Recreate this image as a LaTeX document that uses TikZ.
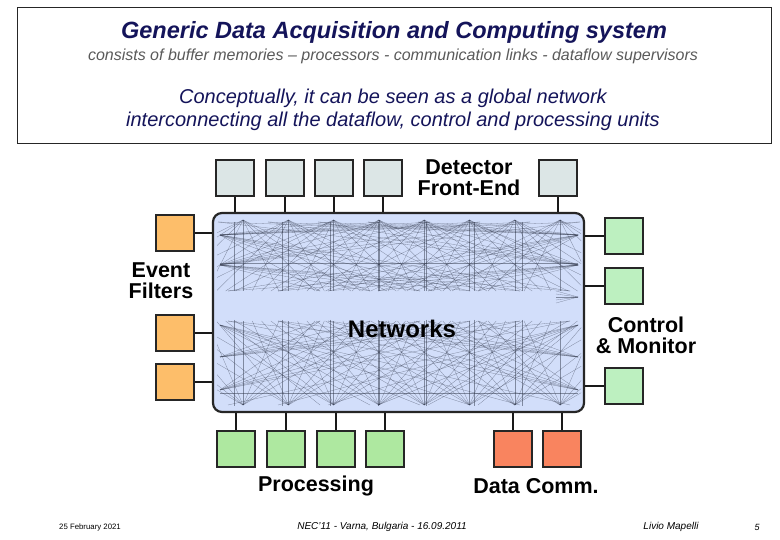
\documentclass[tikz,border=0pt]{standalone}
\usepackage{fontspec}
\setmainfont{Liberation Sans}
\definecolor{detc}{HTML}{DCE6E6}
\definecolor{evc}{HTML}{FDBE6A}
\definecolor{cmc}{HTML}{BDF0C0}
\definecolor{prc}{HTML}{AEE8A0}
\definecolor{dcc}{HTML}{F9845F}
\definecolor{netc}{HTML}{D2DEFA}
\definecolor{meshc}{HTML}{2E3548}
\definecolor{navy}{HTML}{14145A}
\definecolor{subg}{HTML}{5A5A5A}
\begin{document}
\begin{tikzpicture}[x=1pt,y=-1pt,
  unit/.style={draw=black!85, line width=2.2pt, minimum width=38.5pt, minimum height=36.5pt, inner sep=0pt},
  det/.style={unit, fill=detc},
  evb/.style={unit, fill=evc},
  cmb/.style={unit, fill=cmc},
  prb/.style={unit, fill=prc},
  dcb/.style={unit, fill=dcc},
  link/.style={draw=black!90, line width=2.6pt},
  lbl/.style={font=\fontsize{21.5}{21}\selectfont\bfseries, align=center, text=black, inner sep=0pt},
  mesh/.style={draw=meshc, line width=0.3pt, draw opacity=0.5},
  foot/.style={font=\fontsize{9}{10}\selectfont\itshape, inner sep=0pt}]
\useasboundingbox (0,0) rectangle (780,540);
\fill[white] (0,0) rectangle (780,540);

% header
\node[draw=black!85, line width=0.8pt, minimum width=754pt, minimum height=136pt, inner sep=0pt] (hdr) at (394,75) {};
\node[text=navy, font=\fontsize{23.5}{25}\selectfont\bfseries\itshape, inner sep=0pt] (title) at (394,32) {Generic Data Acquisition and Computing system};
\node[text=subg, font=\fontsize{16}{17}\selectfont\itshape, inner sep=0pt] (sub) at (393,56) {consists of buffer memories -- processors - communication links - dataflow supervisors};
\node[text=navy, font=\fontsize{20}{23}\selectfont\itshape, align=center, inner sep=0pt] (concept) at (393,110) {Conceptually, it can be seen as a global network\\interconnecting all the dataflow, control and processing units};

% network box
\node[draw=black!85, line width=2.2pt, fill=netc, rounded corners=9pt, minimum width=371pt, minimum height=199pt, inner sep=0pt] (net) at (398.5,312.5) {};

% mesh
\begin{scope}
\clip (217,217) rectangle (581,409);
% upper panel
\foreach \i in {0,...,7} {
  \pgfmathsetmacro\xa{243+45.3*\i}
  \foreach \j in {-4,...,4} {
    \draw[mesh] (\xa,220) -- ({\xa+\j*36},291);
  }
}
\foreach \ya in {235,265} {
  \foreach \k in {2,...,7} {
    \draw[mesh] (220,\ya) -- ({220+\k*50},291);
    \draw[mesh] (578,\ya) -- ({578-\k*50},291);
    \draw[mesh] (220,\ya) -- ({230+\k*50},222);
    \draw[mesh] (578,\ya) -- ({568-\k*50},222);
  }
}
\foreach \k in {0,...,4} {
  \draw[mesh] (578,297) -- (556,{291+3*\k});
}
\draw[mesh] (220,263) -- (578,263);
% lower panel
\foreach \i in {0,...,7} {
  \pgfmathsetmacro\xa{243+45.3*\i}
  \foreach \j in {-4,...,4} {
    \draw[mesh] (\xa,405) -- ({\xa+\j*36},321);
  }
}
\foreach \ya in {325,357,390} {
  \foreach \k in {2,...,7} {
    \draw[mesh] (220,\ya) -- ({220+\k*50},{\ya<340?405:321});
    \draw[mesh] (578,\ya) -- ({578-\k*50},{\ya<340?405:321});
  }
}
\draw[mesh] (220,393) -- (578,393);
\foreach \i in {0,...,6} {
  \draw[mesh] ({234+48.1*\i},222) -- ++(0,69);
  \draw[mesh] ({234+48.1*\i},320) -- ++(0,86);
}
\end{scope}
\node[font=\fontsize{24}{25}\selectfont\bfseries, inner sep=0pt] (netl) at (402,329) {Networks};

% detector front-end
\node[det] (d1) at (235,178) {};
\node[det] (d2) at (285,178) {};
\node[det] (d3) at (334,178) {};
\node[det] (d4) at (383,178) {};
\node[det] (d5) at (558,178) {};
\foreach \n in {d1,d2,d3,d4,d5} { \draw[link] (\n.south) -- (\n.south |- net.north); }
\node[lbl] (detl) at (469,178) {Detector\\Front-End};

% event filters
\node[evb] (e1) at (175,233) {};
\node[evb] (e2) at (175,333) {};
\node[evb] (e3) at (175,382) {};
\foreach \n in {e1,e2,e3} { \draw[link] (\n.east) -- (\n.east -| net.west); }
\node[lbl] (evl) at (161,281) {Event\\Filters};

% control & monitor
\node[cmb] (c1) at (624,236) {};
\node[cmb] (c2) at (624,286) {};
\node[cmb] (c3) at (624,386) {};
\foreach \n in {c1,c2,c3} { \draw[link] (\n.west) -- (\n.west -| net.east); }
\node[lbl] (cml) at (646,335) {Control\\\& Monitor};

% processing
\node[prb] (p1) at (236,449) {};
\node[prb] (p2) at (286,449) {};
\node[prb] (p3) at (336,449) {};
\node[prb] (p4) at (385,449) {};
\foreach \n in {p1,p2,p3,p4} { \draw[link] (\n.north) -- (\n.north |- net.south); }
\node[lbl] (prl) at (316,486) {Processing};

% data comm
\node[dcb] (q1) at (513,449) {};
\node[dcb] (q2) at (562,449) {};
\foreach \n in {q1,q2} { \draw[link] (\n.north) -- (\n.north |- net.south); }
\node[lbl] (dcl) at (536,486) {Data Comm.};

% footer
\node[foot, font=\fontsize{7.8}{8}\selectfont] (f1) at (90,527) {25 February 2021};
\node[foot, font=\fontsize{10}{11}\selectfont\itshape] (f2) at (382,527) {NEC'11 - Varna, Bulgaria - 16.09.2011};
\node[foot, font=\fontsize{10}{11}\selectfont\itshape] (f3) at (671,527) {Livio Mapelli};
\node[foot] (f4) at (757,527) {5};
\end{tikzpicture}
\end{document}
